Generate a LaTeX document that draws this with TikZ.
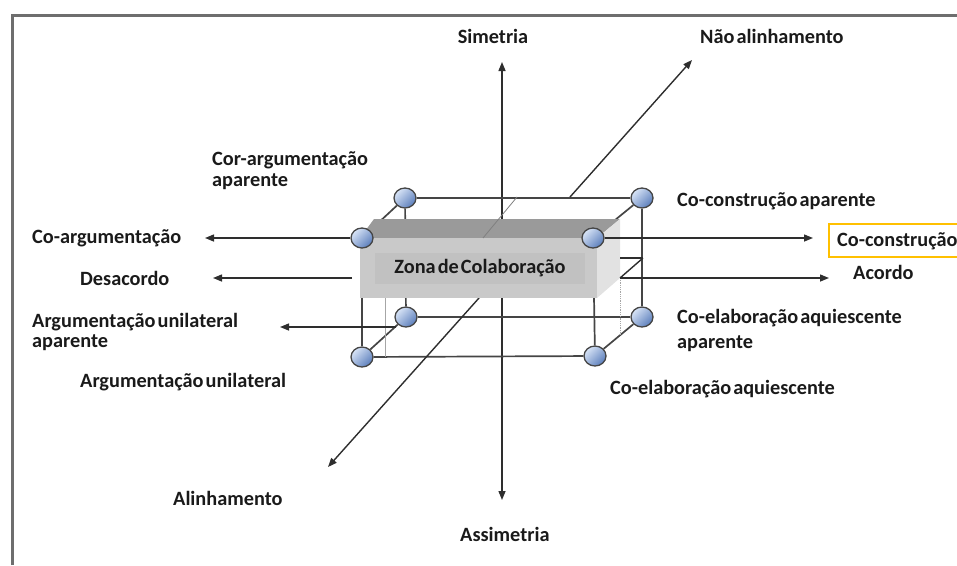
\documentclass[tikz,border=0pt]{standalone}
\usepackage{fontspec}
\setmainfont{Carlito}[WordSpace=0.45]
\usetikzlibrary{arrows.meta,shapes.geometric}
\pgfdeclarelayer{bg}
\pgfdeclarelayer{mid}
\pgfsetlayers{bg,mid,main}
\definecolor{linec}{HTML}{2E2E2E}
\definecolor{edgec}{HTML}{454545}
\definecolor{txt}{HTML}{1A1A1A}
\definecolor{framec}{HTML}{6E6E6E}
\definecolor{vtxlight}{HTML}{D8E4F6}
\definecolor{vtxdark}{HTML}{5B7EBB}
\definecolor{topface}{HTML}{9A9A9A}
\definecolor{frontface}{HTML}{C9C9C9}
\definecolor{innerface}{HTML}{C1C1C1}
\definecolor{sideface}{HTML}{E2E2E2}
\definecolor{hl}{HTML}{FFC000}
\begin{document}
\begin{tikzpicture}[x=1pt,y=-1pt,
  vtx/.style={ellipse, minimum width=22pt, minimum height=20pt, inner sep=0pt,
    draw=edgec, line width=1.3pt, top color=vtxlight, bottom color=vtxdark, shading angle=45},
  lbl/.style={font=\bfseries\fontsize{20.3}{21}\selectfont, text=txt, inner sep=0pt, align=left},
  axisline/.style={draw=linec, line width=1.4pt},
  arr/.style={axisline, -{Triangle[length=9pt,width=7pt]}},
  cubeedge/.style={draw=edgec, line width=1.7pt},
  thin/.style={draw=gray!70, line width=0.8pt}]
\useasboundingbox (0,0) rectangle (957,565);
% frame
\draw[framec, line width=3pt] (12,565) -- (12,15) -- (957,15);
% vertices
\node[vtx] (btl) at (405,198) {};
\node[vtx] (btr) at (642,198) {};
\node[vtx] (bbl) at (406,317) {};
\node[vtx] (bbr) at (642,317) {};
\node[vtx] (ftl) at (362,238) {};
\node[vtx] (ftr) at (593,238) {};
\node[vtx] (fbl) at (362,357) {};
\node[vtx] (fbr) at (595,356) {};
% coordinates
\coordinate (symtop) at (502,62);
\coordinate (symbot) at (502,500);
\coordinate (altip) at (328,467);
\coordinate (natip) at (692,60);
\coordinate (dlo) at (479,298);
\coordinate (dhi) at (570,197);
\coordinate (coargtip) at (205,238);
\coordinate (cctip) at (813,238);
\coordinate (desst) at (352,278);
\coordinate (destip) at (213,278);
\coordinate (acst) at (620,278);
\coordinate (actip) at (829,278);
\coordinate (auast) at (396,327);
\coordinate (auatip) at (280,327);
\coordinate (z1) at (620,258);
\coordinate (z2) at (643,258);
\coordinate (tg1) at (517,197);
\coordinate (tg2) at (483,238);
\coordinate (sh1) at (385,298);
\coordinate (sh2) at (385,357);
\coordinate (sh3) at (620,278);
\coordinate (sh4) at (620,335);
\begin{pgfonlayer}{bg}
  % vertical axis
  \draw[axisline, {Triangle[length=9pt,width=7pt]}-{Triangle[length=9pt,width=7pt]}] (symtop) -- (symbot);
  % back edges
  \draw[cubeedge] (btl) -- (btr);
  \draw[cubeedge] (btr) -- (bbr);
  \draw[cubeedge] (bbl) -- (bbr);
  \draw[cubeedge] (btl) -- (bbl);
  % depth edges
  \draw[cubeedge] (ftl) -- (btl);
  \draw[cubeedge] (ftr) -- (btr);
  \draw[cubeedge] (fbl) -- (bbl);
  \draw[cubeedge] (fbr) -- (bbr);
  % front edges
  \draw[cubeedge] (ftl) -- (fbl);
  \draw[cubeedge] (fbl) -- (fbr);
  \draw[cubeedge] (fbr) -- (ftr);
  % faint lines
  \draw[thin] (sh1) -- (sh2);
  \draw[thin, densely dotted] (sh3) -- (sh4);
  % diagonal axis
  \draw[arr] (dlo) -- (altip);
  \draw[arr] (dhi) -- (natip);
  % horizontal arrows
  \draw[arr] (ftl) -- (coargtip);
  \draw[arr] (desst) -- (destip);
  \draw[arr] (auast) -- (auatip);
\end{pgfonlayer}
\begin{pgfonlayer}{mid}
  \fill[topface] (360,238) -- (374,219) -- (620,219) -- (597,238) -- cycle;
  \fill[frontface] (360,238) rectangle (597,298);
  \fill[sideface] (597,238) -- (620,219) -- (620,278) -- (597,298) -- cycle;
  \node[fill=innerface, minimum width=210pt, minimum height=31pt, inner sep=0pt,
        font=\bfseries\fontsize{20.3}{21}\selectfont, text=txt] (zona) at (480,268) {Zona de Colaboração};
  \draw[thin, draw=gray] (tg1) -- (tg2);
  \draw[axisline] (z1) -- (z2);
  \draw[axisline] (acst) -- (z2);
  \draw[arr] (ftr) -- (cctip);
  \draw[arr] (acst) -- (actip);
\end{pgfonlayer}
% labels
\node[lbl] (simetria) at (493,36) {Simetria};
\node[lbl, anchor=west] (naoal) at (700,36) {Não alinhamento};
\node[lbl, anchor=west] (cora) at (212,171) {Cor-argumentação\\aparente};
\node[lbl, anchor=west] (coarg) at (32,238) {Co-argumentação};
\node[lbl, anchor=west] (desac) at (80,278) {Desacordo};
\node[lbl, anchor=west] (argua) at (32,332) {Argumentação unilateral\\[-1pt]aparente};
\node[lbl, anchor=west] (argu) at (80,382) {Argumentação unilateral};
\node[lbl, anchor=west] (ccap) at (677,201) {Co-construção aparente};
\draw[hl, line width=2.8pt] (980,224) -- (829,224) -- (829,257) -- (980,257);
\node[lbl, anchor=west] (ccbox) at (837,241) {Co-construção};
\node[lbl, anchor=west] (acordo) at (853,272) {Acordo};
\node[lbl, anchor=west] (ceaap) at (677,330) {Co-elaboração aquiescente\\[4pt]aparente};
\node[lbl, anchor=west] (cea) at (610,389) {Co-elaboração aquiescente};
\node[lbl, anchor=west] (alinh) at (173,498) {Alinhamento};
\node[lbl, anchor=west] (assim) at (460,534) {Assimetria};
\end{tikzpicture}
\end{document}
